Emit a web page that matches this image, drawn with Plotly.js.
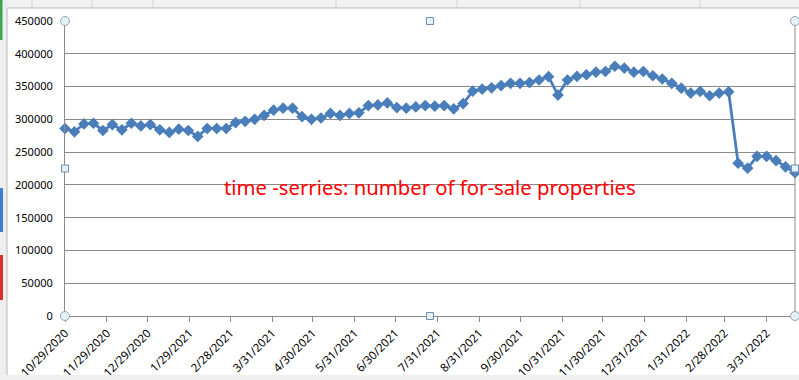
<!DOCTYPE html>
<html>
<head>
<meta charset="utf-8">
<script src="https://cdn.plot.ly/plotly-3.0.1.min.js"></script>
<style>
  html, body { margin: 0; padding: 0; background: #ffffff; }
  #chart { width: 799px; height: 380px; }
</style>
</head>
<body>
<div id="chart"></div>
<script>
// Weekly observation dates
const dates = [
  '2020-10-29','2020-11-05','2020-11-12','2020-11-19','2020-11-26','2020-12-03','2020-12-10','2020-12-17','2020-12-24','2020-12-31',
  '2021-01-07','2021-01-14','2021-01-21','2021-01-28','2021-02-04','2021-02-11','2021-02-18','2021-02-25','2021-03-04','2021-03-11',
  '2021-03-18','2021-03-25','2021-04-01','2021-04-08','2021-04-15','2021-04-22','2021-04-29','2021-05-06','2021-05-13','2021-05-20',
  '2021-05-27','2021-06-03','2021-06-10','2021-06-17','2021-06-24','2021-07-01','2021-07-08','2021-07-15','2021-07-22','2021-07-29',
  '2021-08-05','2021-08-12','2021-08-19','2021-08-26','2021-09-02','2021-09-09','2021-09-16','2021-09-23','2021-09-30','2021-10-07',
  '2021-10-14','2021-10-21','2021-10-28','2021-11-04','2021-11-11','2021-11-18','2021-11-25','2021-12-02','2021-12-09','2021-12-16',
  '2021-12-23','2021-12-30','2022-01-06','2022-01-13','2022-01-20','2022-01-27','2022-02-03','2022-02-10','2022-02-17','2022-02-24',
  '2022-03-03','2022-03-10','2022-03-17','2022-03-24','2022-03-31','2022-04-07','2022-04-14','2022-04-21'
];

// Number of for-sale properties
const forSale = [
  286000,281000,293000,294000,283000,292000,284000,294000,290000,292000,
  284000,280000,285000,283000,274000,286000,286000,286000,295000,297000,
  300000,306000,314000,317000,317000,304000,300000,302000,309000,306000,
  309000,310000,321000,322000,325000,318000,317000,319000,321000,320000,
  321000,316000,324000,343000,346000,348000,351500,355000,355000,356000,
  360000,365000,337000,360000,365500,368000,372000,373000,381000,378000,
  372000,373000,366500,361500,355000,347500,340000,342500,336000,340000,
  342000,233000,225500,243500,243500,237000,227500,218500
];

// Axis tick positions and labels
const xTickVals = [
  '2020-10-29','2020-11-29','2020-12-29','2021-01-29','2021-02-28','2021-03-31','2021-04-30','2021-05-31','2021-06-30',
  '2021-07-31','2021-08-31','2021-09-30','2021-10-31','2021-11-30','2021-12-31','2022-01-31','2022-02-28','2022-03-31'
];
const xTickText = [
  '10/29/2020','11/29/2020','12/29/2020','1/29/2021','2/28/2021','3/31/2021','4/30/2021','5/31/2021','6/30/2021',
  '7/31/2021','8/31/2021','9/30/2021','10/31/2021','11/30/2021','12/31/2021','1/31/2022','2/28/2022','3/31/2022'
];
const yTickVals = [0,50000,100000,150000,200000,250000,300000,350000,400000,450000];
const yTickText = ['0','50000','100000','150000','200000','250000','300000','350000','400000','450000'];
const chartTitle = 'time -serries: number of for-sale properties';

const lineColor = '#4a7ebb';
const gridColor = '#8a8a8a';

const trace = {
  x: dates,
  y: forSale,
  type: 'scatter',
  mode: 'lines+markers',
  line: { color: lineColor, width: 2.8 },
  marker: { symbol: 'diamond', size: 9, color: lineColor },
  cliponaxis: false,
  hoverinfo: 'x+y'
};

// plot area in pixels: x 65..795, y 21..316
function px(x) { return (x - 65) / 730; }
function py(y) { return (316 - y) / 295; }

function circleHandle(xp, yp) {
  return { type: 'circle', xref: 'paper', yref: 'paper', xsizemode: 'pixel', ysizemode: 'pixel',
    xanchor: xp, yanchor: yp, x0: -4.5, x1: 4.5, y0: -4.5, y1: 4.5,
    fillcolor: '#e4f1f7', line: { color: '#8fa6b8', width: 1 } };
}
function squareHandle(xp, yp) {
  return { type: 'rect', xref: 'paper', yref: 'paper', xsizemode: 'pixel', ysizemode: 'pixel',
    xanchor: xp, yanchor: yp, x0: -3.5, x1: 3.5, y0: -3.5, y1: 3.5,
    fillcolor: '#e4f1f7', line: { color: '#6f8fb0', width: 1 } };
}
function pxRect(x0, y0, x1, y1, fill) {
  return { type: 'rect', xref: 'paper', yref: 'paper', x0: px(x0), x1: px(x1), y0: py(y1), y1: py(y0),
    fillcolor: fill, line: { width: 0 }, layer: 'below' };
}
function pxLine(x0, y0, x1, y1, color) {
  return { type: 'line', xref: 'paper', yref: 'paper', x0: px(x0), x1: px(x1), y0: py(y0), y1: py(y1),
    line: { color: color, width: 1 }, layer: 'below' };
}

const shapes = [
  // spreadsheet surroundings
  pxRect(0, 0, 799, 8, '#f2f2f2'),
  pxRect(0, 0, 7, 380, '#eeeeee'),
  pxRect(0, 375, 799, 380, '#f0f0f0'),
  pxRect(0, 0, 2.5, 40, '#3aa655'),
  pxRect(0, 188, 3, 232, '#3b7fd0'),
  pxRect(0, 255, 3, 300, '#d9302c'),
  pxLine(7, 8, 799, 8, '#b8b8b8'),
  pxLine(7, 8, 7, 375, '#b8b8b8'),
  pxLine(32, 0, 32, 8, '#d0d0d0'),
  pxLine(92, 0, 92, 8, '#d0d0d0'),
  pxLine(153, 0, 153, 8, '#d0d0d0'),
  pxLine(336, 0, 336, 8, '#d0d0d0'),
  pxLine(457, 0, 457, 8, '#d0d0d0'),
  pxLine(580, 0, 580, 8, '#d0d0d0'),
  pxLine(700, 0, 700, 8, '#d0d0d0'),
  // right border of plot area
  { type: 'line', xref: 'paper', yref: 'paper', x0: 1, x1: 1, y0: 0, y1: 1, line: { color: gridColor, width: 1 } },
  circleHandle(0, 1), circleHandle(1, 1), circleHandle(0, 0), circleHandle(1, 0),
  squareHandle(0.5, 1), squareHandle(0.5, 0), squareHandle(0, 0.5), squareHandle(1, 0.5)
];

const layout = {
  width: 799,
  height: 380,
  margin: { l: 65, r: 4, t: 21, b: 64, pad: 0 },
  paper_bgcolor: '#ffffff',
  plot_bgcolor: '#ffffff',
  showlegend: false,
  font: { family: 'Liberation Sans, Arial, sans-serif', size: 11, color: '#000000' },
  xaxis: {
    type: 'date',
    range: ['2020-10-29', '2022-04-21'],
    tickmode: 'array',
    tickvals: xTickVals,
    ticktext: xTickText,
    tickangle: -45,
    ticks: 'outside',
    ticklen: 5,
    tickcolor: gridColor,
    showgrid: false,
    showline: true,
    linecolor: gridColor,
    linewidth: 1,
    zeroline: false,
    tickfont: { family: 'Noto Sans, Liberation Sans, sans-serif', size: 11.5, color: '#000000' }
  },
  yaxis: {
    range: [0, 450000],
    tickmode: 'array',
    tickvals: yTickVals,
    ticktext: yTickText,
    ticks: '',
    ticklabelstandoff: 9,
    showgrid: true,
    gridcolor: gridColor,
    gridwidth: 1,
    showline: true,
    linecolor: gridColor,
    linewidth: 1,
    zeroline: false,
    tickfont: { family: 'Noto Sans, Liberation Sans, sans-serif', size: 11, color: '#000000' }
  },
  annotations: [
    { text: chartTitle, xref: 'paper', yref: 'paper', x: 0.5, y: 0.437, xanchor: 'center', yanchor: 'middle',
      showarrow: false, font: { family: 'Noto Sans, Liberation Sans, sans-serif', size: 20.3, color: '#ff0000' } }
  ],
  shapes: shapes
};

Plotly.newPlot('chart', [trace], layout, { displayModeBar: false, staticPlot: true });
</script>
</body>
</html>
